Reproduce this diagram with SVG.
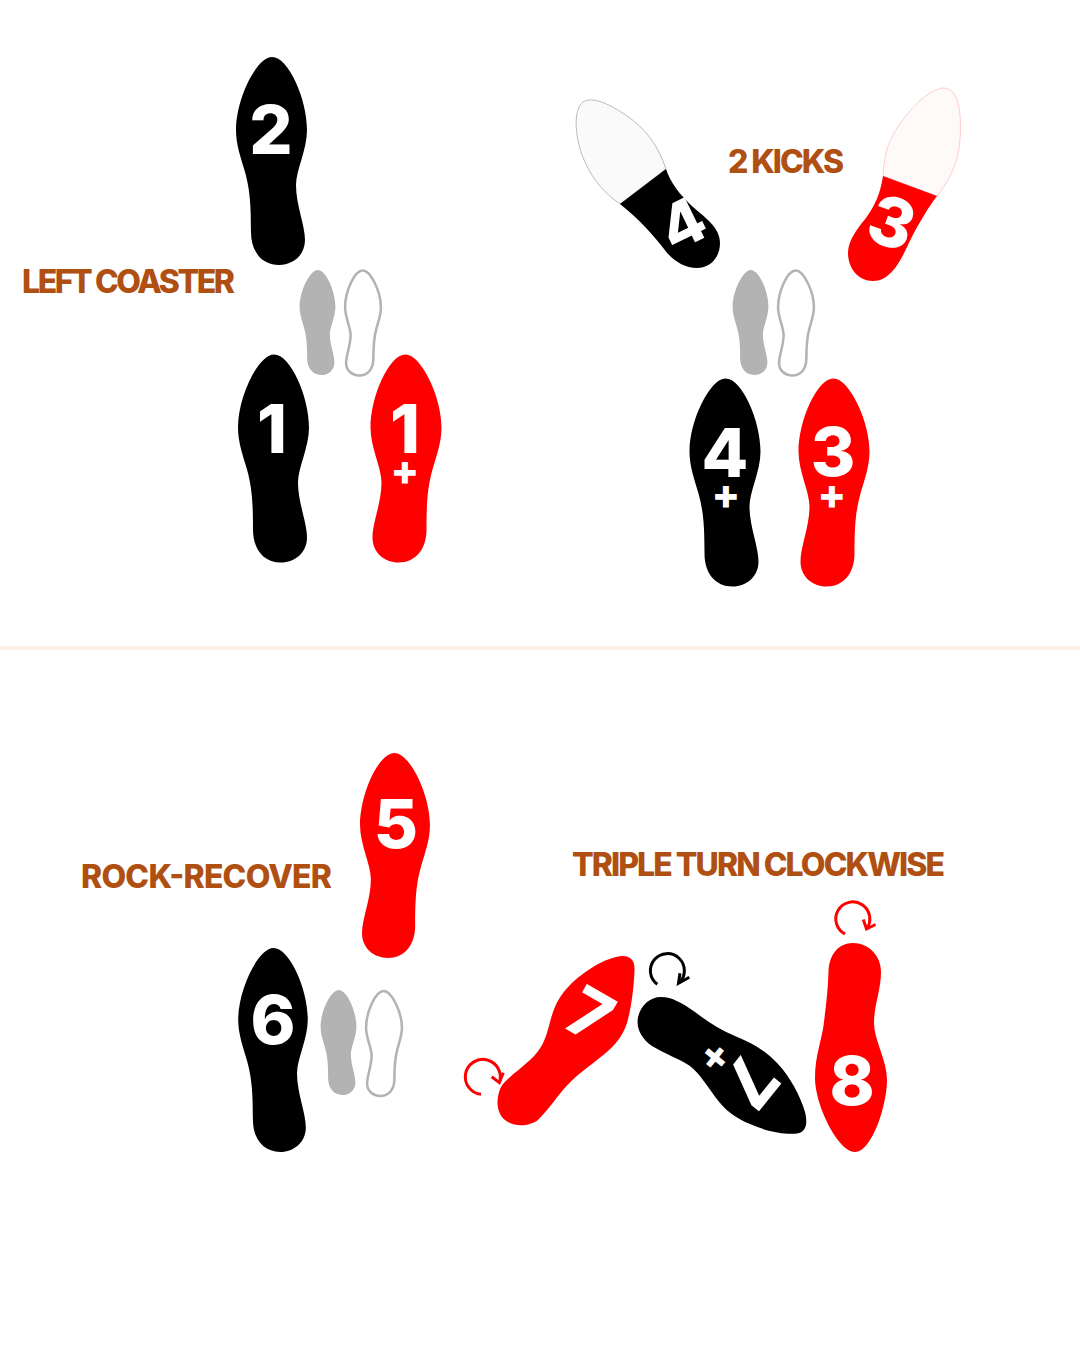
<svg xmlns="http://www.w3.org/2000/svg" width="1080" height="1350" viewBox="0 0 1080 1350">
<style>
.t{font-family:"Inter","Liberation Sans",sans-serif;font-weight:800;fill:#b04f12;font-size:32px}
.n{font-family:"Inter","Liberation Sans",sans-serif;font-weight:800;fill:#fff;font-size:68px;text-anchor:middle}
.p{font-family:"Inter","Liberation Sans",sans-serif;font-weight:800;fill:#fff;font-size:42px;text-anchor:middle}
.k{fill:#000}.r{fill:#f00}.g{fill:#b3b3b3}.o{fill:#fff;stroke:#b3b3b3;stroke-width:5}
.ar{fill:none;stroke-width:3}
</style>
<defs>
<path id="foot" d="M.5-104C17-104 35.5-62 35.5-31C35.5-11 24.5 9 24.5 24C24.5 44 33.5 64 33.5 79C33.5 94 21.5 104 7.5 104C-9.5 104-20.5 91-20.5 71C-20.5 44-21.5 29-26.5 11C-30.5-3-35.5-16-35.5-31C-35.5-62-15-104 .5-104Z"/>
</defs>
<rect width="1080" height="1350" fill="#fff"/>
<rect id="divider" x="0" y="646" width="1080" height="4" fill="#fdefe4"/>
<g id="titles">
<text id="t1" class="t" x="22" y="293" textLength="213" lengthAdjust="spacing">LEFT COASTER</text>
<text id="t2" class="t" x="728" y="173" textLength="116" lengthAdjust="spacing">2 KICKS</text>
<text id="t3" class="t" x="81" y="888" textLength="251" lengthAdjust="spacing">ROCK-RECOVER</text>
<text id="t4" class="t" x="572" y="876" textLength="373" lengthAdjust="spacing">TRIPLE TURN CLOCKWISE</text>
</g>
<g id="foot-2"><use href="#foot" class="k" transform="translate(271.5 161)"/><text class="n" x="271" y="154">2</text></g>
<g id="foot-1-left"><use href="#foot" class="k" transform="translate(273.5 458.5)"/><text class="n" x="272" y="453">1</text></g>
<g id="foot-1-right"><use href="#foot" class="r" transform="translate(406 458.5) scale(-1 1)"/><text class="n" x="405" y="453">1</text><text class="p" x="405" y="485">+</text></g>
<g id="ghost-1"><use href="#foot" class="g" transform="translate(317.5 322.5) scale(.505)"/><use href="#foot" class="o" transform="translate(363 323) scale(-.505 .505)"/></g>
<g id="ghost-2"><use href="#foot" class="g" transform="translate(750.5 322.5) scale(.505)"/><use href="#foot" class="o" transform="translate(796 323) scale(-.505 .505)"/></g>
<g id="ghost-3"><use href="#foot" class="g" transform="translate(338.5 1042.5) scale(.505)"/><use href="#foot" class="o" transform="translate(384 1043.5) scale(-.505 .505)"/></g>
<g id="foot-4-plus"><use href="#foot" class="k" transform="translate(725 482.5)"/><text class="n" x="725" y="477">4</text><text class="p" x="726" y="509">+</text></g>
<g id="foot-3-plus"><use href="#foot" class="r" transform="translate(834 482.5) scale(-1 1)"/><text class="n" x="833" y="476">3</text><text class="p" x="832" y="509">+</text></g>
<g id="foot-4-kick">
<path fill="#fafafa" stroke="#bbb" stroke-width="1" d="M620 204C600 190 590 175 582 155C575 135 573 110 583 102C592 96 610 104 627 116C645 128 658 145 666 169Z"/>
<path class="k" d="M620 204L666 169C670 182 680 195 693 207C707 219 720 228 720 243C720 258 710 268 697 268C684 268 672 260 664 249C655 237 640 220 620 204Z"/>
<text class="n" transform="translate(682 223) rotate(-26) translate(0 23)" style="font-size:62px">4</text>
</g>
<g id="foot-3-kick">
<path fill="#fefafa" stroke="#fcc" stroke-width="1" d="M883 176C884 160 886 148 893 135C903 117 925 90 943 88C952 88 958 95 960 115C962 145 958 170 937 196Z"/>
<path class="r" d="M883 176L937 196C925 212 915 230 907 247C900 262 890 281 873 281C858 281 848 268 848 253C848 240 858 228 866 218C875 205 880 195 883 176Z"/>
<text class="n" transform="translate(892 222) rotate(20) translate(0 25)">3</text>
</g>
<g id="foot-5"><use href="#foot" class="r" transform="translate(395 855.5) scale(-.985 .985)"/><text class="n" x="396" y="848">5</text></g>
<g id="foot-6"><use href="#foot" class="k" transform="translate(273 1050) scale(.98)"/><text class="n" x="273" y="1044">6</text></g>
<g id="foot-7"><path class="r" d="M623 956C630 956 635 960 634.5 970C634 985 632 1005 627 1023C622 1038 613 1048 597 1060C583 1071 574 1077 563 1090C553 1102 548 1110 538 1120C530 1126 515 1128 505 1120C497 1114 495 1100 501 1087C507 1078 518 1071 530 1060C542 1049 545 1040 549 1026C553 1010 557 998 570 985C583 972 605 957 623 956Z"/><text class="n" transform="translate(590 1014) rotate(30) translate(0 25)">7</text></g>
<g id="foot-7-plus"><path class="k" d="M661 997C672 997 682 1003 695 1012C708 1022 720 1030 735 1036C752 1043 765 1050 778 1064C790 1077 800 1095 805 1112C808 1124 806 1132 797 1133.5C785 1135 765 1131 750 1124C735 1118 725 1110 716 1098C708 1087 700 1074 690 1066C680 1059 665 1054 652 1046C641 1038 636 1028 638 1017C641 1005 650 997 661 997Z"/><text class="n" transform="translate(751 1082) rotate(129) translate(0 25)">7</text><text class="p" transform="translate(717 1059) rotate(129) translate(0 15)">+</text></g>
<g id="foot-8"><path class="r" d="M853 943C868 943 881 955 881 972C881 990 874 1005 874 1023C874 1040 887 1060 887 1080C887 1105 872 1152 855 1152C838 1152 815 1105 815 1078C815 1055 822 1040 824 1022C826 1005 828 990 828.5 972C829 955 838 943 853 943Z"/><text class="n" x="852" y="1105">8</text></g>
<g id="connectors">
<g class="ar" stroke="#f00"><path d="M845 934A17 17 0 1 1 866.5 929"/><path d="M863.3 919.5L866.5 929L875.5 924.5"/></g>
<g class="ar" stroke="#000"><path d="M657.3 984.3A17 17 0 1 1 679 983"/><path d="M680 973.3L678.5 983.3L689.3 977.3"/></g>
<g class="ar" stroke="#f00"><path d="M481 1094.3A17.5 17.5 0 1 1 499.3 1082.7"/><path d="M491.7 1076.7L499.3 1082.7L503.3 1072.7"/></g>
</g>
</svg>
